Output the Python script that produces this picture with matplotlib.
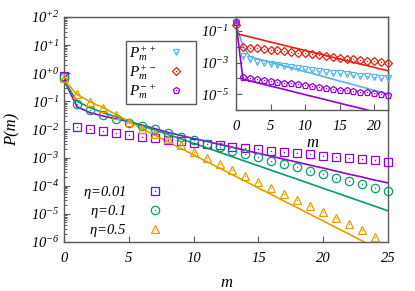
import numpy as np
import matplotlib
matplotlib.use('Agg')
import matplotlib.pyplot as plt
from matplotlib.ticker import LogLocator, FixedLocator, FuncFormatter, NullFormatter, NullLocator

plt.rcParams['font.family'] = 'Liberation Serif'
plt.rcParams['font.style'] = 'italic'
plt.rcParams['mathtext.fontset'] = 'custom'
plt.rcParams['mathtext.rm'] = 'Liberation Serif'
plt.rcParams['mathtext.it'] = 'Liberation Serif:italic'
plt.rcParams['mathtext.bf'] = 'Liberation Serif:bold'

# ---- main panel: log10 P(m), m = 0..25
m_main = np.arange(26)
eta_labels = [r'$\mathrm{\eta}$=0.01', r'$\mathrm{\eta}$=0.1', r'$\mathrm{\eta}$=0.5']
pts_001 = [-0.10, -1.91, -1.99, -2.07, -2.14, -2.20, -2.26, -2.32, -2.37, -2.42, -2.47, -2.51, -2.56,
           -2.61, -2.65, -2.70, -2.75, -2.79, -2.84, -2.88, -2.93, -2.98, -3.02, -3.06, -3.10, -3.14]
pts_01 = [-0.12, -1.08, -1.32, -1.47, -1.62, -1.76, -1.87, -2.00, -2.12, -2.25, -2.38, -2.51, -2.63,
          -2.75, -2.87, -2.99, -3.11, -3.23, -3.34, -3.47, -3.59, -3.71, -3.83, -3.95, -4.07, -4.20]
pts_05 = [-0.18, -0.75, -1.01, -1.23, -1.47, -1.73, -1.97, -2.17, -2.35, -2.56, -2.79, -3.01, -3.23,
          -3.44, -3.65, -3.88, -4.08, -4.29, -4.51, -4.72, -4.93, -5.15, -5.37, -5.59, -5.81]
line_001 = [-0.24, -1.19, -1.40, -1.52, -1.62, -1.72, -1.84, -1.97, -2.10, -2.21, -2.32, -2.42, -2.53,
            -2.63, -2.74, -2.85, -2.95, -3.06, -3.16, -3.27, -3.37, -3.48, -3.59, -3.69, -3.80, -3.90]
line_01 = [-0.24, -1.00, -1.22, -1.40, -1.55, -1.71, -1.87, -2.02, -2.17, -2.33, -2.49, -2.65, -2.81,
           -2.97, -3.13, -3.29, -3.45, -3.61, -3.77, -3.93, -4.09, -4.25, -4.41, -4.57, -4.73, -4.89]
line_05 = [-0.24, -0.75, -1.01, -1.22, -1.46, -1.71, -1.96, -2.20, -2.43, -2.67, -2.90, -3.14, -3.37,
           -3.61, -3.84, -4.08, -4.31, -4.55, -4.78, -5.02, -5.25, -5.49, -5.72, -5.96, -6.19, -6.43]

# ---- inset: log10 P_m^{ab}, m = 0..22
m_ins = np.arange(23)
ins_labels = [r'$P_m^{++}$', r'$P_m^{+-}$', r'$P_m^{-+}$']
pts_pp = [-0.47, -2.62, -2.78, -2.95, -3.05, -3.12, -3.17, -3.25, -3.31, -3.36, -3.41, -3.47,
          -3.53, -3.58, -3.64, -3.68, -3.72, -3.77, -3.83, -3.87, -3.91, -3.95, -4.00]
pts_pm = [-0.64, -2.04, -2.07, -2.11, -2.15, -2.19, -2.23, -2.28, -2.32, -2.37, -2.42, -2.48,
          -2.53, -2.59, -2.65, -2.71, -2.75, -2.80, -2.84, -2.89, -2.93, -2.97, -3.00]
pts_mp = [-0.43, -3.89, -3.99, -4.06, -4.10, -4.16, -4.21, -4.27, -4.32, -4.38, -4.44, -4.50,
          -4.56, -4.61, -4.66, -4.71, -4.75, -4.79, -4.84, -4.88, -4.92, -4.98, -5.05]
line_pp = [-0.60, -1.95, -2.63, -2.75, -2.87, -2.99, -3.10, -3.22, -3.34, -3.46, -3.58, -3.69,
           -3.81, -3.93, -4.05, -4.17, -4.28, -4.40, -4.52, -4.64, -4.76, -4.87, -4.99]
line_pm = [-1.17, -1.28, -1.38, -1.49, -1.60, -1.71, -1.81, -1.92, -2.03, -2.13, -2.24, -2.35,
           -2.45, -2.56, -2.67, -2.78, -2.88, -2.99, -3.10, -3.20, -3.31, -3.42, -3.52]
line_mp = [-0.45, -4.05, -4.16, -4.27, -4.38, -4.49, -4.59, -4.70, -4.81, -4.92, -5.03, -5.14,
           -5.24, -5.35, -5.46, -5.57, -5.68, -5.78, -5.89, -6.00, -6.11, -6.22, -6.33]

purple = '#9400d3'
green = '#009e73'
orange = '#e69f00'
blue = '#56b4e9'
red = '#e51e10'
frame = '#5a5a5a'

TICK_FS = 10.5


def dec_fmt(v, pos):
    e = int(round(np.log10(v)))
    return r'$\mathit{10^{%+d}}$' % e


def style(a):
    for s in a.spines.values():
        s.set_color(frame)
        s.set_linewidth(1.0)
    a.tick_params(which='both', direction='in', top=False, right=False, color=frame,
                  labelsize=TICK_FS)
    a.tick_params(which='major', length=4.5, width=0.8)
    a.tick_params(which='minor', length=2.5, width=0.7)


def draw(a, m, pts, line, col, mk, ms):
    a.plot(m, 10.0 ** np.array(line), color=col, lw=1.2, zorder=2)
    h, = a.plot(m[:len(pts)], 10.0 ** np.array(pts), ls='none', marker=mk, mfc='none', mec=col,
                ms=ms, mew=0.9, clip_on=False, zorder=3)
    d, = a.plot(m[:len(pts)], 10.0 ** np.array(pts), ls='none', marker='o', color=col,
                ms=1.0, mew=0, clip_on=False, zorder=3)
    return (h, d)


fig = plt.figure(figsize=(4.15, 2.91), dpi=100)
ax = fig.add_axes([0.1542, 0.1684, 0.7807, 0.7732])
ax.set_yscale('log')
ax.set_xlim(0, 25)
ax.set_ylim(1e-6, 1e2)

h1 = draw(ax, m_main, pts_001, line_001, purple, 's', 6.0)
h2 = draw(ax, m_main, pts_01, line_01, green, 'o', 6.0)
h3 = draw(ax, m_main, pts_05, line_05, orange, '^', 6.0)

style(ax)
ax.xaxis.set_major_locator(FixedLocator([0, 5, 10, 15, 20, 25]))
ax.xaxis.set_minor_locator(NullLocator())
ax.yaxis.set_major_locator(LogLocator(base=10, numticks=20))
ax.yaxis.set_minor_locator(LogLocator(base=10, subs=np.arange(2, 10), numticks=20))
ax.yaxis.set_major_formatter(FuncFormatter(dec_fmt))
ax.yaxis.set_minor_formatter(NullFormatter())
ax.tick_params(axis='x', pad=7)
ax.tick_params(axis='y', pad=3)
ax.set_xlabel('m', fontsize=12)
ax.set_ylabel('P(m)', fontsize=12)
ax.xaxis.set_label_coords(0.5, -0.145)
ax.yaxis.set_label_coords(-0.135, 0.5)

leg1 = ax.legend([h1, h2, h3], eta_labels, loc='center right',
                 bbox_to_anchor=(0.326, 0.1347), frameon=False, markerfirst=False,
                 fontsize=10.5, handlelength=2.0, handletextpad=1.0, labelspacing=0.12,
                 borderpad=0, borderaxespad=0, numpoints=1)
ax.add_artist(leg1)

# ---- inset
ins = fig.add_axes([0.5687, 0.622, 0.3662, 0.3196])
ins.set_facecolor('white')
ins.set_yscale('log')
ins.set_xlim(0, 22)
ins.set_ylim(1e-6, 0.75)
g1 = draw(ins, m_ins, pts_pp, line_pp, blue, 'v', 4.6)
g2 = draw(ins, m_ins, pts_pm, line_pm, red, 'D', 4.2)
g3 = draw(ins, m_ins, pts_mp, line_mp, purple, 'p', 5.0)
style(ins)
ins.xaxis.set_major_locator(FixedLocator([0, 5, 10, 15, 20]))
ins.xaxis.set_minor_locator(NullLocator())
ins.yaxis.set_major_locator(FixedLocator([1e-6, 1e-5, 1e-4, 1e-3, 1e-2, 1e-1]))
ins.yaxis.set_minor_locator(NullLocator())
ins.yaxis.set_major_formatter(FuncFormatter(
    lambda v, p: dec_fmt(v, p) if int(round(np.log10(v))) in (-1, -3, -5) else ''))
ins.tick_params(axis='x', pad=7)
ins.tick_params(axis='y', pad=5)
ins.set_xlabel('m', fontsize=12, labelpad=2)

leg2 = ax.legend([g1, g2, g3], ins_labels, loc='center',
                 bbox_to_anchor=(0.298, 0.752), frameon=True, fancybox=False,
                 edgecolor=frame, framealpha=1, fontsize=11, handlelength=2.2,
                 handletextpad=0.2, labelspacing=0.02, borderpad=0.2, numpoints=1,
                 markerfirst=False)
leg2.get_frame().set_linewidth(1.0)

fig.savefig('out.png', dpi=100)
